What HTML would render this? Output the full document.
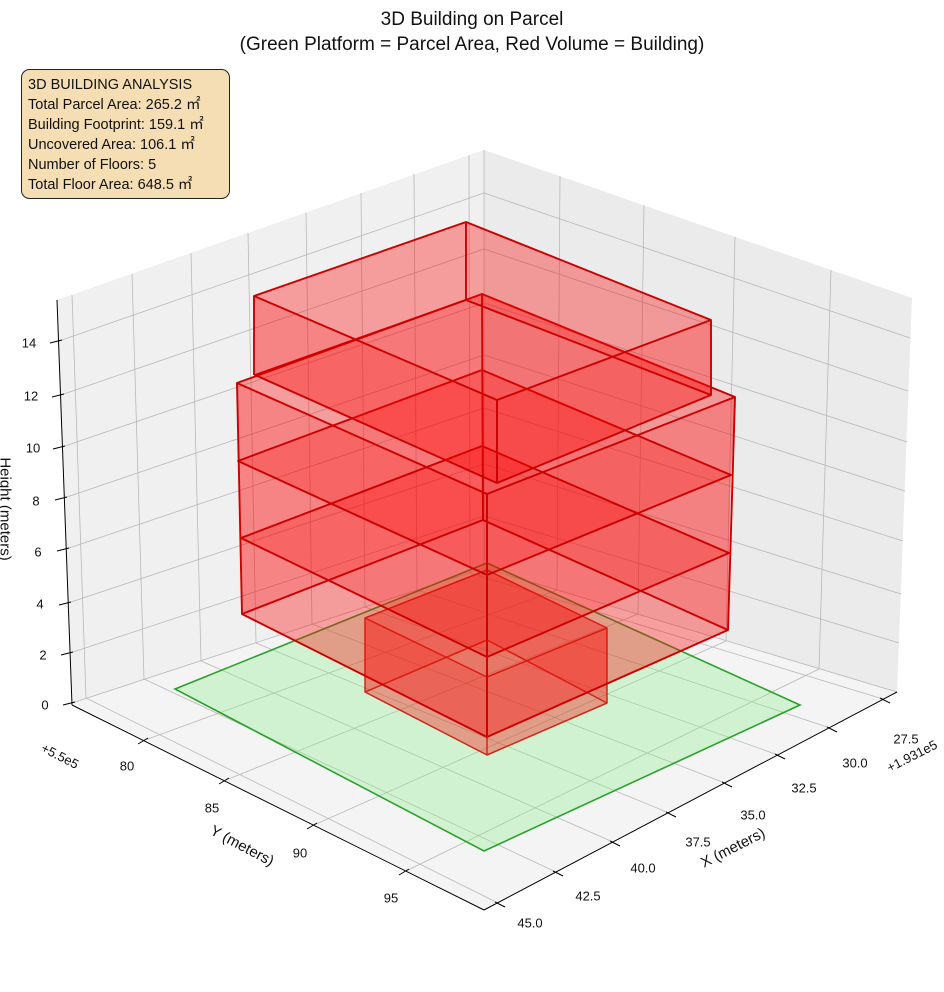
<!DOCTYPE html>
<html><head><meta charset="utf-8"><style>
html,body{margin:0;padding:0;background:#fff;}
svg{display:block;font-family:"Liberation Sans","Noto Sans CJK JP",sans-serif;}
.g{stroke:#b8b8b8;stroke-width:0.8;fill:none}
.ax{stroke:#000;stroke-width:1;fill:none}
.t{font-size:13px;fill:#111;text-anchor:middle;dominant-baseline:central}
.s{fill:#ff0000;fill-opacity:0.26;stroke:none}
.p{fill:#ff0000;fill-opacity:0.12;stroke:none}
.e{fill:none;stroke:#cc0000;stroke-width:1.9;stroke-linejoin:round}
</style></head><body>
<svg width="944" height="992" viewBox="0 0 944 992" xmlns="http://www.w3.org/2000/svg">
<rect width="944" height="992" fill="#fff"/>
<polygon points="57,300 484,150 484,568 72,703" fill="#f0f0f0"/>
<polygon points="484,150 912,298 897,692 484,568" fill="#ebebeb"/>
<polygon points="72,703 484,568 897,692 484,910" fill="#f4f4f4"/>
<g class="g">
<line x1="86" y1="698" x2="72" y2="295"/><line x1="144" y1="679" x2="132" y2="274"/>
<line x1="201" y1="661" x2="191" y2="253"/><line x1="256" y1="643" x2="248" y2="233"/>
<line x1="312" y1="624" x2="306" y2="213"/><line x1="365" y1="607" x2="361" y2="193"/>
<line x1="417" y1="590" x2="414" y2="174"/><line x1="470" y1="573" x2="469" y2="155"/>
<line x1="70" y1="653" x2="484" y2="516"/><line x1="68" y1="603" x2="484" y2="464"/>
<line x1="66" y1="549" x2="484" y2="408"/><line x1="64" y1="498" x2="484" y2="355"/>
<line x1="62" y1="447" x2="484" y2="303"/><line x1="61" y1="395" x2="484" y2="249"/>
<line x1="59" y1="341" x2="484" y2="193"/>
<line x1="557" y1="590" x2="560" y2="176"/><line x1="638" y1="614" x2="644" y2="205"/>
<line x1="726" y1="641" x2="735" y2="237"/><line x1="819" y1="669" x2="831" y2="270"/>
<line x1="484" y1="516" x2="899" y2="643"/><line x1="484" y1="464" x2="901" y2="594"/>
<line x1="484" y1="408" x2="903" y2="541"/><line x1="484" y1="355" x2="905" y2="491"/>
<line x1="484" y1="303" x2="907" y2="442"/><line x1="484" y1="249" x2="908" y2="391"/>
<line x1="484" y1="193" x2="910" y2="338"/>
<line x1="86" y1="698" x2="498" y2="903"/><line x1="144" y1="679" x2="556" y2="872"/>
<line x1="201" y1="661" x2="613" y2="842"/><line x1="256" y1="643" x2="669" y2="813"/>
<line x1="312" y1="624" x2="725" y2="783"/><line x1="365" y1="607" x2="778" y2="755"/>
<line x1="417" y1="590" x2="830" y2="728"/><line x1="470" y1="573" x2="883" y2="699"/>
<line x1="145" y1="740" x2="557" y2="590"/><line x1="226" y1="780" x2="638" y2="614"/>
<line x1="314" y1="825" x2="726" y2="641"/><line x1="406" y1="871" x2="819" y2="669"/>
<line x1="484" y1="150" x2="484" y2="568"/><line x1="72" y1="703" x2="484" y2="568"/><line x1="484" y1="568" x2="897" y2="692"/>
</g>
<g class="ax">
<line x1="57" y1="300" x2="72" y2="705"/>
<line x1="72" y1="705" x2="484" y2="910"/>
<line x1="484" y1="910" x2="897" y2="692"/>
<line x1="63" y1="705" x2="75" y2="702"/><line x1="61" y1="655" x2="73" y2="652"/>
<line x1="59" y1="605" x2="71" y2="602"/><line x1="57" y1="551" x2="69" y2="548"/>
<line x1="55" y1="500" x2="67" y2="497"/><line x1="53" y1="449" x2="65" y2="446"/>
<line x1="52" y1="397" x2="64" y2="394"/><line x1="50" y1="343" x2="62" y2="340"/>
<line x1="138" y1="744" x2="148" y2="738"/><line x1="219" y1="784" x2="229" y2="778"/>
<line x1="307" y1="829" x2="317" y2="823"/><line x1="399" y1="875" x2="409" y2="869"/>
<line x1="495" y1="902" x2="505" y2="907"/><line x1="553" y1="871" x2="563" y2="876"/>
<line x1="610" y1="841" x2="620" y2="846"/><line x1="666" y1="812" x2="676" y2="817"/>
<line x1="722" y1="782" x2="732" y2="787"/><line x1="775" y1="754" x2="785" y2="759"/>
<line x1="827" y1="727" x2="837" y2="732"/><line x1="880" y1="698" x2="890" y2="703"/>
</g>
<polygon points="175,689 487,563 800,705 484,851" fill="#90ee90" fill-opacity="0.35" stroke="#2ca02c" stroke-width="1.6"/>
<g>
<polygon class="p" points="365,692 487,640 607,703 487,755"/>
<polygon class="s" points="365,618 487,570 487,640 365,692"/>
<polygon class="s" points="487,570 607,628 607,703 487,640"/>
<polygon class="s" points="487,677 607,628 607,703 487,755"/>
<polygon class="s" points="365,618 487,677 487,755 365,692"/>
<polygon class="p" points="365,618 487,570 607,628 487,677"/>
<path class="e" style="stroke:#cc2a1a;stroke-width:1.5" d="M365,618 L487,570 L607,628 L487,677 Z M365,692 L487,640 L607,703 L487,755 Z M365,618 V692 M487,570 V640 M607,628 V703 M487,677 V755"/>
</g>
<g>
<polygon class="p" points="242,614 483,520 728,630 487,737"/>
<polygon class="s" points="241,538 482,446 483,520 242,614"/>
<polygon class="s" points="482,446 729,553 728,630 483,520"/>
<polygon class="s" points="487,657 729,553 728,630 487,737"/>
<polygon class="s" points="241,538 487,657 487,737 242,614"/>
<polygon class="p" points="241,538 482,446 729,553 487,657"/>
</g>
<g>
<polygon class="p" points="241,538 482,446 729,553 487,657"/>
<polygon class="s" points="238,461 482,370 482,446 241,538"/>
<polygon class="s" points="482,370 731,475 729,553 482,446"/>
<polygon class="s" points="487,575 731,475 729,553 487,657"/>
<polygon class="s" points="238,461 487,575 487,657 241,538"/>
<polygon class="p" points="238,461 482,370 731,475 487,575"/>
</g>
<g>
<polygon class="p" points="238,461 482,370 731,475 487,575"/>
<polygon class="s" points="237,383 482,294 482,370 238,461"/>
<polygon class="s" points="482,294 735,397 731,475 482,370"/>
<polygon class="s" points="487,494 735,397 731,475 487,575"/>
<polygon class="s" points="237,383 487,494 487,575 238,461"/>
<polygon class="p" points="237,383 482,294 735,397 487,494"/>
</g>
<path class="e" d="M237,383 L482,294 L735,397 L487,494 Z M238,461 L482,370 L731,475 L487,575 Z M241,538 L482,446 L729,553 L487,657 Z M242,614 L483,520 L728,630 L487,737 Z M237,383 L242,614 M482,294 L483,520 M735,397 L728,630 M487,494 L487,737"/>
<g>
<polygon class="p" points="255,375 466,300 711,395 497,483"/>
<polygon class="s" points="254,296 466,222 466,300 255,375"/>
<polygon class="s" points="466,222 711,320 711,395 466,300"/>
<polygon class="s" points="497,400 711,320 711,395 497,483"/>
<polygon class="s" points="254,296 497,400 497,483 255,375"/>
<polygon class="p" points="254,296 466,222 711,320 497,400"/>
<path class="e" d="M254,296 L466,222 L711,320 L497,400 Z M255,375 L466,300 L711,395 L497,483 Z M254,296 V375 M466,222 V300 M711,320 V395 M497,400 V483"/>
</g>
<g class="t">
<text x="45" y="705">0</text><text x="43" y="655">2</text><text x="40" y="604">4</text><text x="38" y="552">6</text>
<text x="36" y="501">8</text><text x="33" y="448">10</text><text x="31" y="396">12</text><text x="29" y="343">14</text>
<text x="127" y="766">80</text><text x="212" y="808">85</text><text x="300" y="853">90</text><text x="391" y="898">95</text>
<text x="530" y="923">45.0</text><text x="588" y="896">42.5</text><text x="643" y="868">40.0</text><text x="698" y="842">37.5</text>
<text x="753" y="815">35.0</text><text x="804" y="788">32.5</text><text x="855" y="763">30.0</text><text x="906" y="739">27.5</text>
<text x="60" y="756" transform="rotate(27 60 756)">+5.5e5</text>
<text x="912" y="756" transform="rotate(-27 912 756)">+1.931e5</text>
</g>
<g style="font-size:15px;fill:#111" text-anchor="middle" dominant-baseline="central">
<text x="242" y="846" transform="rotate(28 242 846)">Y (meters)</text>
<text x="733" y="848" transform="rotate(-27 733 848)">X (meters)</text>
<text x="5" y="509" transform="rotate(90 5 509)">Height (meters)</text>
</g>
<g style="font-size:19px;fill:#111" text-anchor="middle">
<text x="472" y="25">3D Building on Parcel</text>
<text x="472" y="50">(Green Platform = Parcel Area, Red Volume = Building)</text>
</g>
<rect x="21.5" y="69.5" width="208" height="129" rx="8" ry="8" fill="#f5deb3" stroke="#222" stroke-width="1"/>
<g style="font-size:14.5px;fill:#111">
<text x="28" y="89">3D BUILDING ANALYSIS</text>
<text x="28" y="109">Total Parcel Area: 265.2 ㎡</text>
<text x="28" y="129">Building Footprint: 159.1 ㎡</text>
<text x="28" y="149">Uncovered Area: 106.1 ㎡</text>
<text x="28" y="169">Number of Floors: 5</text>
<text x="28" y="189">Total Floor Area: 648.5 ㎡</text>
</g>
</svg>
</body></html>
